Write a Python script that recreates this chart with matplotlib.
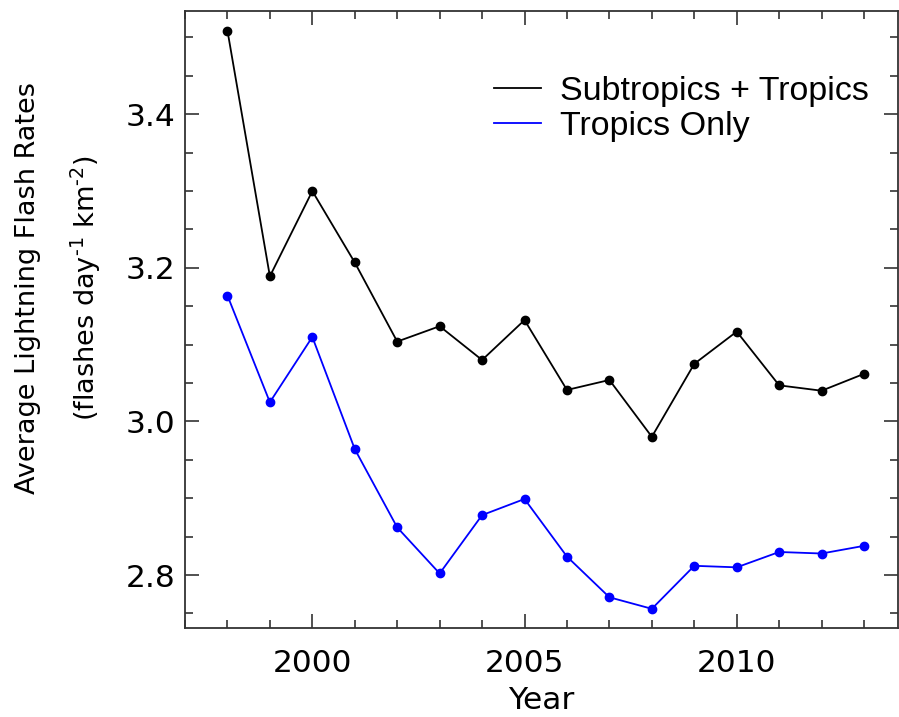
import matplotlib
matplotlib.use("Agg")
import matplotlib.pyplot as plt
from matplotlib.ticker import MultipleLocator, FormatStrFormatter

plt.rcParams["font.family"] = ["DejaVu Sans"]

years = [1998, 1999, 2000, 2001, 2002, 2003, 2004, 2005,
         2006, 2007, 2008, 2009, 2010, 2011, 2012, 2013]
subtropics_tropics = [3.509, 3.189, 3.300, 3.207, 3.104, 3.124, 3.080, 3.132,
                      3.041, 3.054, 2.980, 3.075, 3.117, 3.047, 3.040, 3.062]
tropics_only = [3.164, 3.025, 3.110, 2.964, 2.862, 2.802, 2.878, 2.899,
                2.824, 2.771, 2.756, 2.812, 2.810, 2.830, 2.828, 2.838]
series_labels = ["Subtropics + Tropics", "Tropics Only"]
series_colors = ["black", "#0000ff"]

W, H = 899, 717
fig = plt.figure(figsize=(W / 100, H / 100), dpi=100)
ax = fig.add_axes([185 / W, 1 - 628 / H, (898 - 185) / W, (628 - 11) / H])

for vals, lab, col in zip([subtropics_tropics, tropics_only], series_labels, series_colors):
    ax.plot(years, vals, color=col, lw=1.3, label=lab)
    ax.plot(years, vals, ls="none", marker="o", ms=6, color=col)

ax.set_xlim(1997, 2013.8)
ax.set_ylim(2.731, 3.5345)
ax.xaxis.set_major_locator(MultipleLocator(5))
ax.xaxis.set_minor_locator(MultipleLocator(1))
ax.yaxis.set_major_locator(MultipleLocator(0.2))
ax.yaxis.set_minor_locator(MultipleLocator(0.05))
ax.yaxis.set_major_formatter(FormatStrFormatter("%.1f"))

for s in ax.spines.values():
    s.set_color("#333333")
    s.set_linewidth(1.3)
ax.tick_params(which="both", direction="in", top=True, right=True,
               color="#333333", width=1.2, labelsize=22.5, labelcolor="black")
ax.tick_params(which="major", length=10)
ax.tick_params(which="minor", length=5.5)
ax.tick_params(axis="x", which="major", pad=15)
ax.tick_params(axis="y", which="major", pad=7)

ax.set_xlabel("Year", fontsize=22.5, labelpad=6)

unit_label = ("(flashes day$^{\\mathregular{\u2010" + "1}}$ km$^{\\mathregular{\u2010" + "2}}$)")
fig.text(28 / W, 1 - 288 / H, "Average Lightning Flash Rates",
         rotation=90, ha="center", va="center", fontsize=19.5)
fig.text(86 / W, 1 - 288 / H, unit_label,
         rotation=90, ha="center", va="center", fontsize=19.5)

ax.legend(loc="upper left",
          bbox_to_anchor=((480 - 185) / (898 - 185), 1 - (62 - 11) / (628 - 11)),
          frameon=False, handlelength=1.4, handletextpad=0.56, labelspacing=0.12,
          prop={"family": "Liberation Sans", "size": 24.5}, borderaxespad=0)

fig.savefig("out.png", dpi=100)
